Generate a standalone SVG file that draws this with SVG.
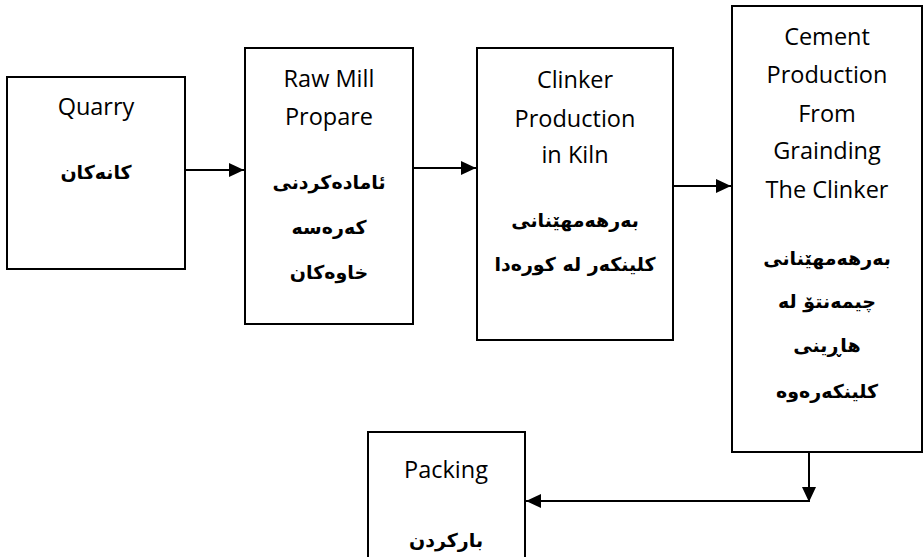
<svg xmlns="http://www.w3.org/2000/svg" width="924" height="557" viewBox="0 0 924 557">
<style>
.box{fill:#fff;stroke:#000;stroke-width:2}
.en{font-family:"Open Sans","Liberation Sans",sans-serif;font-size:23.5px;fill:#000;text-anchor:middle}
.ku{font-family:"DejaVu Sans","Noto Sans",sans-serif;font-size:19px;font-weight:bold;fill:#000;text-anchor:middle;direction:rtl;unicode-bidi:embed}
.ln{fill:none;stroke:#000;stroke-width:2}
</style>
<defs>
<marker id="ah" markerUnits="userSpaceOnUse" markerWidth="16" markerHeight="14" refX="15" refY="7" orient="auto">
<path d="M0,0 L15,7 L0,14 Z" fill="#000"/>
</marker>
</defs>
<rect width="924" height="557" fill="#fff"/>
<g id="quarry">
<rect class="box" x="7" y="77" width="178" height="192"/>
<text class="en" x="96" y="115">Quarry</text>
<text class="ku" x="96" y="179">کانەکان</text>
</g>
<g id="rawmill">
<rect class="box" x="245" y="48" width="168" height="276"/>
<text class="en" x="329" y="87">Raw Mill</text>
<text class="en" x="329" y="125">Propare</text>
<text class="ku" x="329" y="189">ئامادەکردنی</text>
<text class="ku" x="329" y="234">کەرەسە</text>
<text class="ku" x="329" y="279">خاوەکان</text>
</g>
<g id="clinker">
<rect class="box" x="477" y="48" width="196" height="292"/>
<text class="en" x="575" y="88">Clinker</text>
<text class="en" x="575" y="127">Production</text>
<text class="en" x="575" y="163">in Kiln</text>
<text class="ku" x="575" y="227">بەرهەمهێنانی</text>
<text class="ku" x="575" y="271">کلینکەر لە کورەدا</text>
</g>
<g id="cement">
<rect class="box" x="732" y="6" width="190" height="446"/>
<text class="en" x="827" y="45">Cement</text>
<text class="en" x="827" y="83">Production</text>
<text class="en" x="827" y="122">From</text>
<text class="en" x="827" y="159">Grainding</text>
<text class="en" x="827" y="198">The Clinker</text>
<text class="ku" x="827" y="265">بەرهەمهێنانی</text>
<text class="ku" x="827" y="308">چیمەنتۆ لە</text>
<text class="ku" x="827" y="352">هاڕینی</text>
<text class="ku" x="827" y="398">کلینکەرەوە</text>
</g>
<g id="packing">
<rect class="box" x="368" y="432" width="157" height="140"/>
<text class="en" x="446" y="478">Packing</text>
<text class="ku" x="446" y="547">بارکردن</text>
</g>
<g id="connectors">
<line class="ln" x1="185" y1="170" x2="244" y2="170" marker-end="url(#ah)"/>
<line class="ln" x1="413" y1="168" x2="476" y2="168" marker-end="url(#ah)"/>
<line class="ln" x1="673" y1="186" x2="731" y2="186" marker-end="url(#ah)"/>
<line class="ln" x1="809" y1="452" x2="809" y2="502" marker-end="url(#ah)"/>
<line class="ln" x1="809" y1="501" x2="526" y2="501" marker-end="url(#ah)"/>
</g>
</svg>
